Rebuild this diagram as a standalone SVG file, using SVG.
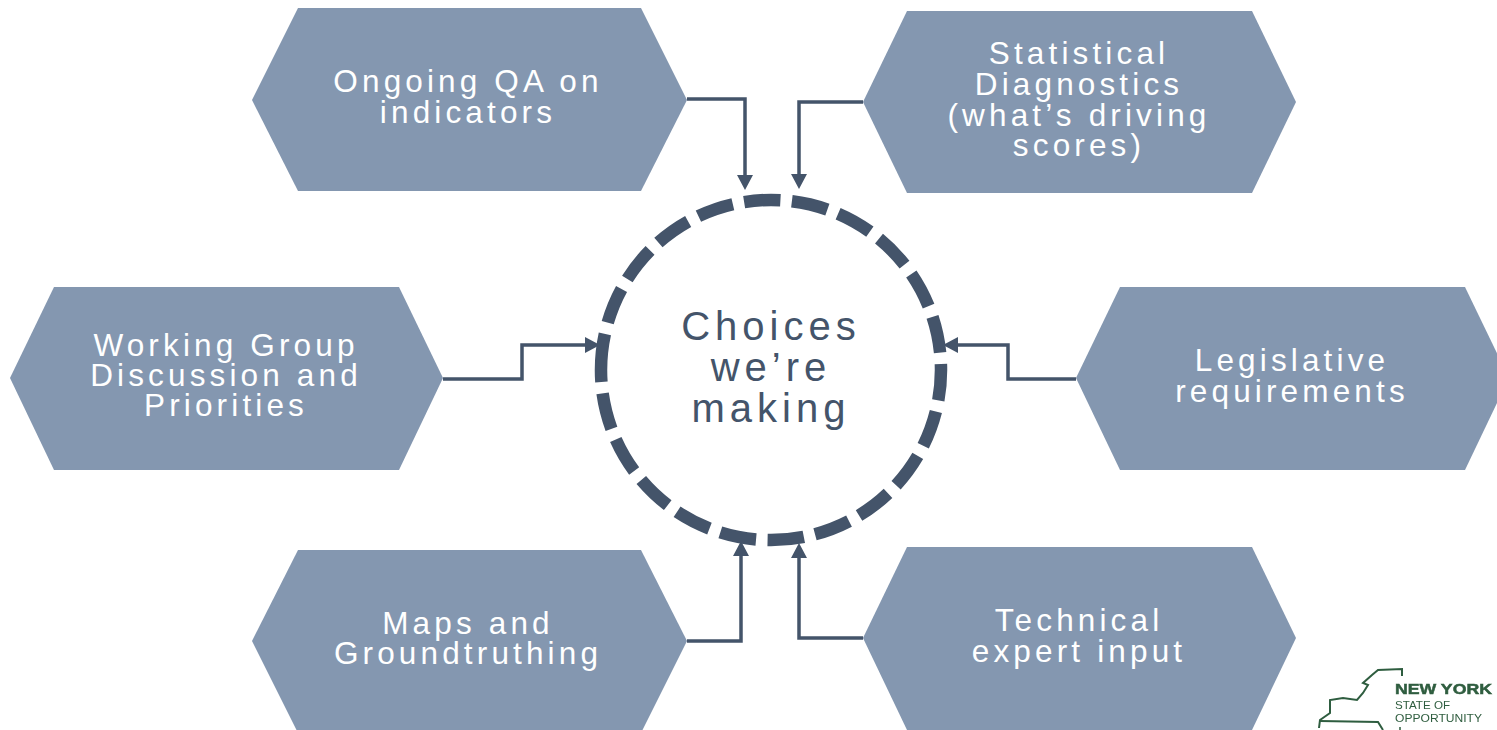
<svg xmlns="http://www.w3.org/2000/svg" width="1497" height="730" viewBox="0 0 1497 730">
<style>
.hex{fill:#8497B0}
.t{font-family:"Liberation Sans",Arial,sans-serif;font-size:31.5px;letter-spacing:4.15px;fill:#fff;text-anchor:middle}
.c{font-family:"Liberation Sans",Arial,sans-serif;font-size:40px;letter-spacing:5px;fill:#44546A;text-anchor:middle}
.conn{fill:none;stroke:#44546A;stroke-width:3.5}
.ring{fill:none;stroke:#44546A;stroke-width:12.5;stroke-dasharray:36.5 11.5}
.lg{font-family:"Liberation Sans",Arial,sans-serif;fill:#2F5D3F}
</style>
<defs>
<marker id="a" markerUnits="userSpaceOnUse" markerWidth="16" markerHeight="16" refX="1" refY="8" orient="auto"><path d="M0 0L15 8L0 16Z" fill="#44546A"/></marker>
<filter id="b" x="-5%" y="-5%" width="110%" height="110%"><feGaussianBlur stdDeviation="0.45"/></filter>
</defs>
<rect width="1497" height="730" fill="#fff"/>
<g id="connectors">
<path class="conn" marker-end="url(#a)" d="M687 99H745V176"/>
<path class="conn" marker-end="url(#a)" d="M863 102H799V175"/>
<path class="conn" marker-end="url(#a)" d="M443 379H522V345H586"/>
<path class="conn" marker-end="url(#a)" d="M1076 379H1008V345H957"/>
<path class="conn" marker-end="url(#a)" d="M687 641H741V555"/>
<path class="conn" marker-end="url(#a)" d="M863 638H799V557"/>
</g>
<g id="n-qa"><path class="hex" d="M252 100L298 8H641L687 100L641 191H298Z"/><text class="t" x="468" y="92">Ongoing QA on</text><text class="t" x="468" y="123">indicators</text></g>
<g id="n-stat"><path class="hex" d="M863 102L907 11H1252L1296 102L1252 193H907Z"/><text class="t" x="1079" y="64">Statistical</text><text class="t" x="1079" y="95">Diagnostics</text><text class="t" x="1079" y="126">(what’s driving</text><text class="t" x="1079" y="156">scores)</text></g>
<g id="n-wg"><path class="hex" d="M10 378L54 287H399L443 378L399 470H54Z"/><text class="t" x="226" y="356">Working Group</text><text class="t" x="226" y="386">Discussion and</text><text class="t" x="226" y="416">Priorities</text></g>
<g id="n-leg"><path class="hex" d="M1076 378L1120 287H1465L1509 378L1465 470H1120Z"/><text class="t" x="1292" y="371">Legislative</text><text class="t" x="1292" y="402">requirements</text></g>
<g id="n-maps"><path class="hex" d="M252 641L298 550H641L687 641L641 733H298Z"/><text class="t" x="468" y="634">Maps and</text><text class="t" x="468" y="664">Groundtruthing</text></g>
<g id="n-tech"><path class="hex" d="M863 638L907 547H1252L1296 638L1252 730H907Z"/><text class="t" x="1079" y="631">Technical</text><text class="t" x="1079" y="662">expert input</text></g>
<g id="n-center"><path class="ring" d="M601 370A170 170 0 1 1 941 370A170 170 0 1 1 601 370Z"/><text class="c" x="771" y="340">Choices</text><text class="c" x="771" y="381">we’re</text><text class="c" x="771" y="422">making</text></g>
<g id="logo" filter="url(#b)">
<path fill="none" stroke="#2F5D3F" stroke-width="2" d="M1319 728L1320 720L1330 713V700L1343 698L1357 700L1363 693L1368 685L1363 683L1372 675L1378 670L1402 669V676"/>
<path fill="none" stroke="#2F5D3F" stroke-width="2" d="M1320 721L1378 722L1383 730"/>
<path fill="none" stroke="#2F5D3F" stroke-width="1.5" d="M1400 727V730"/>
<text class="lg" x="1395" y="694" font-size="15" font-weight="700" stroke="#2F5D3F" stroke-width=".5" textLength="97" lengthAdjust="spacingAndGlyphs">NEW YORK</text>
<text class="lg" x="1395" y="709" font-size="11" textLength="55" lengthAdjust="spacingAndGlyphs">STATE OF</text>
<text class="lg" x="1395" y="722" font-size="11" textLength="87" lengthAdjust="spacingAndGlyphs">OPPORTUNITY</text>
</g>
</svg>
